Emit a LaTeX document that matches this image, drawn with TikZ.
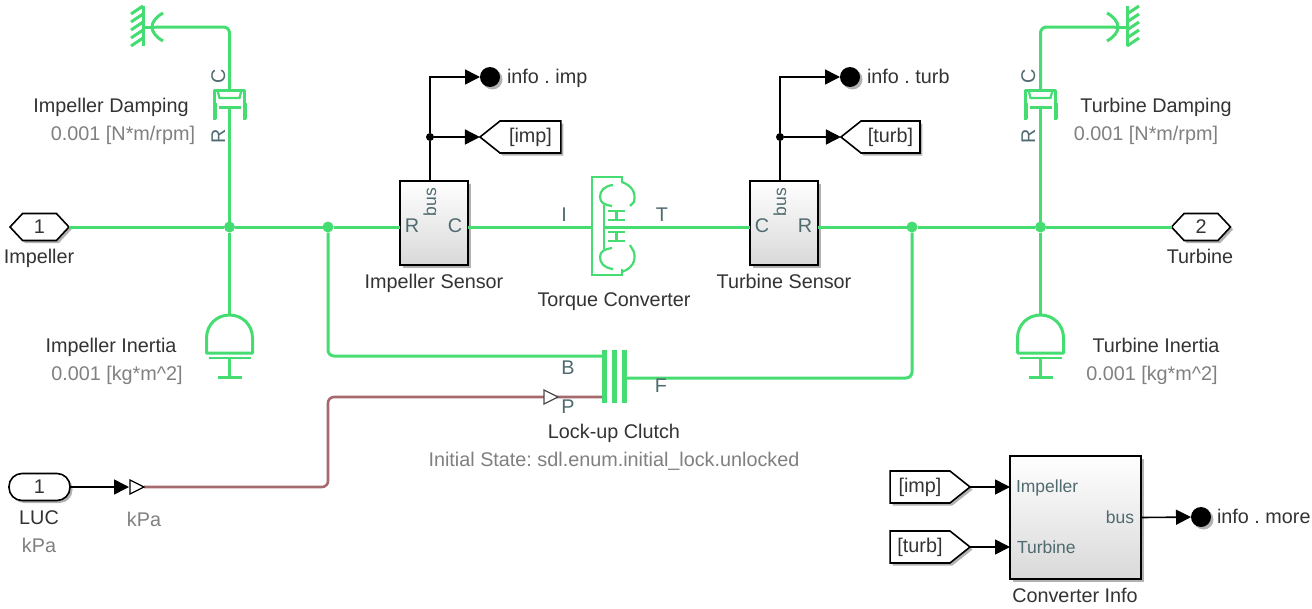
\documentclass[tikz,border=0pt]{standalone}
\usepackage{fontspec}
\setmainfont{Liberation Sans}
\usetikzlibrary{arrows.meta,shapes.symbols,shadows}
\definecolor{physgreen}{HTML}{45DC72}
\definecolor{pressline}{HTML}{A56A6E}
\definecolor{portgrey}{HTML}{4F6B70}
\tikzset{
    every node/.style={inner sep=0pt, outer sep=0pt, font=\fontsize{19.8}{22}\selectfont, text=black!80},
    lbl/.style={text height=13.5pt, text depth=1.5pt},
    param/.style={lbl, text=black!50},
    portlbl/.style={lbl, text=portgrey},
    inlbl/.style={portlbl, font=\fontsize{17.5}{20}\selectfont},
    phys/.style={physgreen, line width=3pt, line join=round},
    thinphys/.style={physgreen, line width=2.2pt},
    press/.style={pressline, line width=2.6pt, rounded corners=6pt},
    sig/.style={black, line width=1.6pt},
    sigarrow/.style={sig, -{Triangle[length=15pt,width=15pt]}},
    soft/.style={drop shadow={shadow xshift=2.5pt, shadow yshift=-2.5pt, opacity=0.3, fill=black}},
    hexport/.style={shape=signal, signal to=west and east, signal pointer angle=94, draw=black, line width=1.6pt,
        fill=white, soft, minimum width=59pt, minimum height=27pt},
    goto/.style={shape=signal, signal to=west, signal pointer angle=77, draw=black, line width=1.6pt,
        fill=white, soft, minimum height=32pt},
    from/.style={shape=signal, signal to=east, signal pointer angle=77, draw=black, line width=1.6pt,
        fill=white, soft, minimum height=32pt},
    stadium/.style={rectangle, rounded corners=13pt, draw=black, line width=1.6pt, fill=white, soft,
        minimum width=61pt, minimum height=27pt},
    block/.style={rectangle, draw=black, line width=1.6pt, top color=white, bottom color=black!15, soft},
    jgreen/.style={circle, fill=physgreen, minimum size=11pt},
    jblack/.style={circle, fill=black, minimum size=8pt},
    tagdot/.style={circle, fill=black, minimum size=20pt, soft},
    pics/damper/.style={code={
        \draw[phys] (-15,30) -- (-15,0) -- (15,0) -- (15,30);
        \draw[thinphys] (-12,0) -- (-10,8) -- (10,8) -- (12,0);
        \draw[phys] (-11,17) -- (11,17);
        \draw[phys, line width=4pt] (-15,13) -- (-15,29);
        \draw[phys, line width=4pt] (15,13) -- (15,29);
        \coordinate (-top) at (0,0);
        \coordinate (-bot) at (0,17);
    }},
    pics/inertia/.style={code={
        \draw[phys] (-23,38) -- (-23,23) .. controls (-23,10) and (-13,0) .. (0,0)
            .. controls (13,0) and (23,10) .. (23,23) -- (23,38) -- cycle;
        \draw[thinphys] (-21,43) -- (21,43);
        \draw[phys] (0,43) -- (0,62);
        \draw[phys] (-12,62) -- (12,62);
        \coordinate (-top) at (0,0);
    }},
    pics/cup/.style={code={
        \draw[phys] (-12,0) -- (0,0);
        \draw[phys] (8,-14) .. controls (1,-10) and (-3,-5) .. (-3,0) .. controls (-3,5) and (1,10) .. (8,14);
        \coordinate (-port) at (0,0);
    }},
}
\frenchspacing
\begin{document}
\begin{tikzpicture}[x=1pt,y=-1pt]
    \useasboundingbox[fill=white] (0,0) rectangle (1312,608);

    % ports
    \node[hexport] (impport) at (39.5,227) {1};
    \node[lbl] (impportname) at (39,257) {Impeller};
    \node[hexport] (turbport) at (1201,227) {2};
    \node[lbl] (turbportname) at (1200,257) {Turbine};
    \node[stadium] (lucport) at (39.5,487) {1};
    \node[lbl] (lucname) at (39,518) {LUC};
    \node[param] (lucunit) at (39,546) {kPa};

    % sensors
    \node[block, minimum width=68pt, minimum height=84pt] (impsens) at (434,223) {};
    \node[lbl] (impsensname) at (434,282) {Impeller Sensor};
    \node[portlbl] (impsensr) at (412,226) {R};
    \node[portlbl] (impsensc) at (455,226) {C};
    \node[inlbl, rotate=90] (impsensbus) at (430,202) {bus};
    \node[block, minimum width=68pt, minimum height=84pt] (turbsens) at (784,223) {};
    \node[lbl] (turbsensname) at (784,282) {Turbine Sensor};
    \node[portlbl] (turbsensc) at (762,226) {C};
    \node[portlbl] (turbsensr) at (805,226) {R};
    \node[inlbl, rotate=90] (turbsensbus) at (780,202) {bus};
    \coordinate (impbus) at (430,181);
    \coordinate (turbbus) at (780,181);
    \coordinate (impsl) at (400,227);
    \coordinate (impsr) at (468,227);
    \coordinate (turbsl) at (750,227);
    \coordinate (turbsr) at (818,227);

    % info tags and gotos
    \node[tagdot] (infoimp) at (490,77) {};
    \node[lbl, anchor=west] (infoimptxt) at (507,77) {info . imp};
    \node[tagdot] (infoturb) at (850,77) {};
    \node[lbl, anchor=west] (infoturbtxt) at (867,77) {info . turb};
    \node[goto, minimum width=81pt] (gotoimp) at (530.5,137) {[imp]};
    \node[goto, minimum width=79pt] (gototurb) at (890.5,137) {[turb]};
    \node[jblack] (jimp) at (430,137) {};
    \node[jblack] (jturb) at (780,137) {};
    \draw[sig] (impbus) -- (jimp);
    \draw[sig] (turbbus) -- (jturb);
    \draw[sigarrow] (jimp) |- (infoimp);
    \draw[sigarrow] (jimp) -- (gotoimp.west);
    \draw[sigarrow] (jturb) |- (infoturb);
    \draw[sigarrow] (jturb) -- (gototurb.west);

    % main shaft
    \node[jgreen] (jimpa) at (229.5,227) {};
    \node[jgreen] (jimpb) at (328,227) {};
    \node[jgreen] (jturba) at (912,227) {};
    \node[jgreen] (jturbb) at (1040.5,227) {};
    \draw[phys] (impport.east) -- (jimpa) -- (jimpb) -- (impsl);
    \draw[phys] (turbsr) -- (jturba) -- (jturbb) -- (turbport.west);

    % dampers
    \pic (dampimp) at (229.5,90) {damper};
    \pic (dampturb) at (1040.5,90) {damper};
    \pic (cupimp) at (155,27) {cup};
    \pic[xscale=-1] (cupturb) at (1115,27) {cup};
    \draw[phys] (jimpa) -- (dampimp-bot);
    \draw[phys] (jturbb) -- (dampturb-bot);
    \draw[phys, rounded corners=6pt] (dampimp-top) |- (cupimp-port);
    \draw[phys, rounded corners=6pt] (dampturb-top) |- (cupturb-port);
    \draw[phys] (143,6) -- (143,46);
    \draw[phys] (1127,6) -- (1127,46);
    \foreach \y in {14,22,30,38,46} {
        \draw[phys] (131,\y) -- (143,\y-8);
        \draw[phys] (1127,\y) -- (1139,\y-8);
    }
    \node[portlbl, rotate=90] (dampimpc) at (219,76) {C};
    \node[portlbl, rotate=90] (dampimpr) at (219,136) {R};
    \node[portlbl, rotate=90] (dampturbc) at (1029,76) {C};
    \node[portlbl, rotate=90] (dampturbr) at (1029,136) {R};
    \node[lbl] (dampimpname) at (111,106) {Impeller Damping};
    \node[param] (dampimpval) at (123,134) {0.001 [N*m/rpm]};
    \node[lbl] (dampturbname) at (1156,106) {Turbine Damping};
    \node[param] (dampturbval) at (1146,134) {0.001 [N*m/rpm]};

    % inertias
    \pic (inimp) at (229.5,315) {inertia};
    \pic (inturb) at (1040.5,315) {inertia};
    \draw[phys] (jimpa) -- (inimp-top);
    \draw[phys] (jturbb) -- (inturb-top);
    \node[lbl] (inimpname) at (111,346) {Impeller Inertia};
    \node[param] (inimpval) at (117,374) {0.001 [kg*m\textasciicircum 2]};
    \node[lbl] (inturbname) at (1156,346) {Turbine Inertia};
    \node[param] (inturbval) at (1152,374) {0.001 [kg*m\textasciicircum 2]};

    % torque converter
    \coordinate (tconvl) at (592,227);
    \coordinate (tconvr) at (604,227);
    \draw[phys] (impsr) -- (tconvl);
    \draw[phys] (tconvr) -- (turbsl);
    \draw[thinphys] (622,183) -- (622,177) -- (592,177) -- (592,275) -- (622,275) -- (622,269);
    \draw[thinphys] (604,205) -- (604,249);
    \draw[thinphys] (613,185) .. controls (604,186) and (600,191) .. (600,197) .. controls (600,203) and (605,205) .. (612,206);
    \draw[thinphys] (622,182) .. controls (632,186) and (636,192) .. (634,202) -- (630,206);
    \draw[thinphys] (612,248) .. controls (605,249) and (600,251) .. (600,257) .. controls (600,263) and (604,268) .. (613,269);
    \draw[thinphys] (630,245) -- (634,252) .. controls (636,262) and (632,268) .. (622,272);
    \draw[thinphys] (608,211) -- (625,211);
    \draw[thinphys] (608,220) -- (625,220);
    \draw[thinphys] (616.5,211) -- (616.5,220);
    \draw[thinphys] (608,232) -- (625,232);
    \draw[thinphys] (608,241) -- (625,241);
    \draw[thinphys] (616.5,232) -- (616.5,241);
    \node[portlbl] (tconvi) at (564,215) {I};
    \node[portlbl] (tconvt) at (662,215) {T};
    \node[lbl] (tconvname) at (614,300) {Torque Converter};

    % clutch
    \foreach \x in {604,614,624}
        \draw[physgreen, line width=5pt] (\x,350) -- (\x,403);
    \coordinate (clutchb) at (602,356);
    \coordinate (clutchp) at (602,397);
    \coordinate (clutchf) at (626,378);
    \draw[phys, rounded corners=6pt] (jimpb) |- (clutchb);
    \draw[phys, rounded corners=6pt] (clutchf) -| (jturba);
    \node[portlbl] (clutchbl) at (568,368) {B};
    \node[portlbl] (clutchpl) at (568,407) {P};
    \node[portlbl] (clutchfl) at (661,386) {F};
    \node[lbl] (clutchname) at (614,432) {Lock-up Clutch};
    \node[param] (clutchstate) at (614,460) {Initial State: sdl.enum.initial\_lock.unlocked};

    % pressure line
    \coordinate (convout) at (144,487);
    \draw[press] (convout) -- (328,487) |- (clutchp);
    \draw[black, line width=1.2pt, fill=white] (130,480) -- (144,487) -- (130,494) -- cycle;
    \draw[black!70, line width=1.2pt, fill=white] (544,390) -- (558,397) -- (544,404) -- cycle;
    \coordinate (convin) at (129,487);
    \draw[sigarrow] (lucport.east) -- (convin);
    \node[param] (convunit) at (144,520) {kPa};

    % converter info
    \node[block, minimum width=131pt, minimum height=123pt] (convinfo) at (1075.5,517.5) {};
    \node[lbl] (convinfoname) at (1075,596) {Converter Info};
    \node[inlbl, anchor=west] (convimp) at (1016,486) {Impeller};
    \node[inlbl, anchor=west] (convturb) at (1017,547) {Turbine};
    \node[inlbl, anchor=east] (convbus) at (1134,517) {bus};
    \coordinate (convimpin) at (1010,487);
    \coordinate (convturbin) at (1010,547);
    \node[from, minimum width=80pt] (fromimp) at (920,487) {[imp]};
    \node[from, minimum width=80pt] (fromturb) at (920,547) {[turb]};
    \draw[sigarrow] (fromimp.east) -- (convimpin);
    \draw[sigarrow] (fromturb.east) -- (convturbin);
    \node[tagdot] (infomore) at (1201,517) {};
    \node[lbl, anchor=west] (infomoretxt) at (1217,517) {info . more};
    \draw[sigarrow] (convinfo.east) -- (infomore);
\end{tikzpicture}
\end{document}
